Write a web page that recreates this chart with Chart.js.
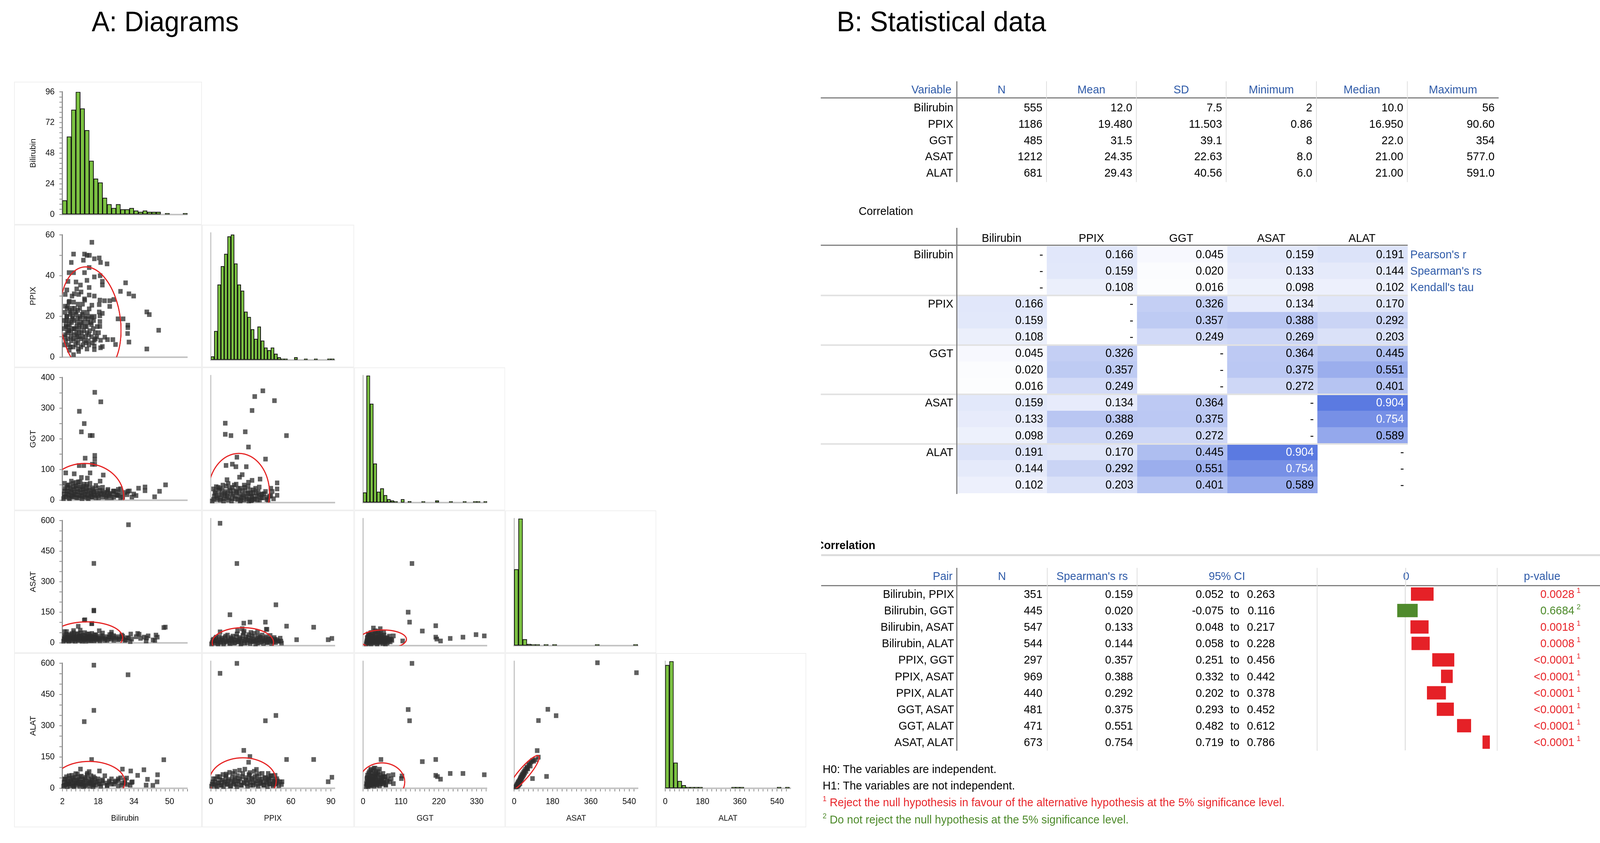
<!DOCTYPE html>
<html>
<head>
<meta charset="utf-8">
<script src="https://cdn.jsdelivr.net/npm/chart.js@4.4.1/dist/chart.umd.min.js"></script>
<style>
html, body { margin: 0; padding: 0; background: #fff; overflow: hidden; }
#root { width: 4310px; height: 2157px; position: relative; overflow: hidden; font-family: "Liberation Sans", Arial, sans-serif; color: #000; transform-origin: 0 0; }
sup { font-size: 19px; line-height: 0; vertical-align: 13px; }
</style>
</head>
<body>
<div id="root"></div>
<script>
// ---------- data ----------
const variables = ['Bilirubin', 'PPIX', 'GGT', 'ASAT', 'ALAT'];

// descriptive table
const descN = [555, 1186, 485, 1212, 681];
const descMean = ['12.0', '19.480', '31.5', '24.35', '29.43'];
const descSD = ['7.5', '11.503', '39.1', '22.63', '40.56'];
const descMin = ['2', '0.86', '8', '8.0', '6.0'];
const descMedian = ['10.0', '16.950', '22.0', '21.00', '21.00'];
const descMax = ['56', '90.60', '354', '577.0', '591.0'];

// correlation matrix
const pearsonR = [
  [null, 0.166, 0.045, 0.159, 0.191],
  [0.166, null, 0.326, 0.134, 0.170],
  [0.045, 0.326, null, 0.364, 0.445],
  [0.159, 0.134, 0.364, null, 0.904],
  [0.191, 0.170, 0.445, 0.904, null]];
const spearmanRs = [
  [null, 0.159, 0.020, 0.133, 0.144],
  [0.159, null, 0.357, 0.388, 0.292],
  [0.020, 0.357, null, 0.375, 0.551],
  [0.133, 0.388, 0.375, null, 0.754],
  [0.144, 0.292, 0.551, 0.754, null]];
const kendallTau = [
  [null, 0.108, 0.016, 0.098, 0.102],
  [0.108, null, 0.249, 0.269, 0.203],
  [0.016, 0.249, null, 0.272, 0.401],
  [0.098, 0.269, 0.272, null, 0.589],
  [0.102, 0.203, 0.401, 0.589, null]];
const statNames = ["Pearson's r", "Spearman's rs", "Kendall's tau"];

// pairwise Spearman table
const pairs = ['Bilirubin, PPIX', 'Bilirubin, GGT', 'Bilirubin, ASAT', 'Bilirubin, ALAT', 'PPIX, GGT',
  'PPIX, ASAT', 'PPIX, ALAT', 'GGT, ASAT', 'GGT, ALAT', 'ASAT, ALAT'];
const pairN = [351, 445, 547, 544, 297, 969, 440, 481, 471, 673];
const pairRs = ['0.159', '0.020', '0.133', '0.144', '0.357', '0.388', '0.292', '0.375', '0.551', '0.754'];
const ciLow = [0.052, -0.075, 0.048, 0.058, 0.251, 0.332, 0.202, 0.293, 0.482, 0.719];
const ciHigh = [0.263, 0.116, 0.217, 0.228, 0.456, 0.442, 0.378, 0.452, 0.612, 0.786];
const pValues = ['0.0028', '0.6684', '0.0018', '0.0008', '<0.0001', '<0.0001', '<0.0001', '<0.0001', '<0.0001', '<0.0001'];
const pSignificant = [true, false, true, true, true, true, true, true, true, true];

// histograms (bin start, bin width, counts)
const bilirubinHist = { start: 2, width: 2, yMax: 96,
  counts: [11, 61, 82, 96, 83, 66, 42, 28, 25, 13, 8, 5, 8, 4, 4, 5, 3, 2, 3, 2, 2, 2, 0, 1, 0, 0, 0, 1] };
const ppixHist = { start: 0, width: 2.5, yMax: 145,
  counts: [4, 33, 86, 107, 121, 141, 143, 110, 86, 79, 55, 49, 35, 24, 38, 22, 14, 11, 14, 7, 3, 1, 1, 0, 0, 3, 0, 0, 1, 0, 0, 1, 0, 0, 0, 1, 1] };
const ggtHist = { start: 0, width: 10, yMax: 189,
  counts: [15, 189, 147, 58, 16, 21, 11, 5, 3, 1, 0, 5, 0, 2, 0, 0, 0, 1, 0, 0, 0, 3, 0, 0, 0, 1, 0, 0, 0, 1, 0, 0, 1, 1, 0, 1] };
const asatHist = { start: 0, width: 20, yMax: 724,
  counts: [435, 724, 36, 9, 1, 1, 0, 1, 0, 1, 0, 0, 0, 0, 0, 0, 0, 0, 0, 1, 0, 0, 0, 0, 0, 0, 0, 0, 1] };
const alatHist = { start: 0, width: 20, yMax: 298,
  counts: [289, 298, 60, 17, 7, 2, 2, 1, 1, 0, 0, 0, 0, 0, 0, 0, 1, 1, 1, 0, 0, 0, 0, 0, 0, 0, 0, 1, 0, 1] };

// axis ranges and tick labels
const xRange = { Bilirubin: [2, 58], PPIX: [0, 93], GGT: [0, 360], ASAT: [0, 582], ALAT: [0, 606] };
const xMajor = { Bilirubin: [2, 18, 34, 50], PPIX: [0, 30, 60, 90], GGT: [0, 110, 220, 330], ASAT: [0, 180, 360, 540], ALAT: [0, 180, 360, 540] };
const xMinorStep = { Bilirubin: 2, PPIX: 3.75, GGT: 13.75, ASAT: 22.5, ALAT: 22.5 };
const yRange = { Bilirubin: [0, 96], PPIX: [0, 60], GGT: [0, 400], ASAT: [0, 600], ALAT: [0, 600] };
const yMajor = { Bilirubin: [0, 24, 48, 72, 96], PPIX: [0, 20, 40, 60], GGT: [0, 100, 200, 300, 400], ASAT: [0, 150, 300, 450, 600], ALAT: [0, 150, 300, 450, 600] };
const yMinorStep = { Bilirubin: 4, PPIX: 10, GGT: 50, ASAT: 50, ALAT: 50 };

// scatter points [x, y]
const bilPpix = [[15.2,56.4],[7.0,50.6],[11.9,50.6],[13.0,50.0],[14.1,50.0],[16.3,48.3],[18.5,48.7],[19.1,46.5],[22.0,45.8],[6.0,46.5],[11.4,47.6],[14.0,44.0],[5.0,41.5],[7.0,41.5],[11.9,41.5],[16.3,39.4],[18.9,40.0],[19.9,37.2],[19.9,35.4],[13.0,37.7],[14.0,34.2],[4.5,37.2],[8.1,36.9],[10.1,35.4],[8.4,33.5],[30.3,36.5],[28.0,32.3],[31.8,31.1],[33.9,30.0],[3.3,30.8],[7.3,31.1],[9.3,30.8],[14.0,30.5],[16.3,30.0],[11.9,28.6],[18.8,28.0],[20.9,27.7],[23.2,27.7],[23.2,24.9],[25.0,28.3],[14.0,23.7],[18.5,25.8],[15.2,25.5],[5.1,27.4],[39.8,22.2],[40.9,20.9],[18.5,22.2],[19.9,21.5],[18.8,20.3],[26.9,18.8],[29.2,18.8],[18.8,17.5],[18.8,15.1],[31.3,15.7],[31.3,14.5],[31.2,11.6],[45.1,13.2],[31.8,7.4],[39.8,4.0],[25.8,6.2],[24.6,8.6],[22.2,8.6],[21.0,9.8],[19.1,8.3],[16.3,5.5],[16.3,3.7],[19.1,4.6],[19.9,5.2],[13.0,4.0],[9.3,2.8],[7.0,1.2],[5.1,3.4],[16.3,8.3],[15.2,19.4],[16.3,20.0],[13.5,18.8],
  [2.8,14],[3.2,22],[3.5,8],[3.8,18],[4.2,12],[4.4,25],[4.8,6],[5.2,16],[5.5,21],[5.8,10],[6.2,14],[6.4,24],[6.8,5],[7.1,18],[7.4,11],[7.8,22],[8.1,8],[8.4,15],[8.8,19],[9.1,4],[9.4,12],[9.8,24],[10.2,9],[10.5,17],[10.9,21],[11.2,6],[11.6,13],[12.0,19],[12.4,10],[12.8,15],[13.2,22],[13.6,8],[14.2,13],[14.6,17],[15.1,10],[15.8,14],[16.6,12],[17.4,10],[3.0,10],[4.0,20],[5.0,13],[6.0,8],[6.6,19],[7.6,14],[8.6,10],[9.6,16],[10.6,12],[11.4,17],[12.6,7],[13.8,11],[4.6,15],[8.2,21],[10.0,20],[6.0,22],[3.6,16],[9.0,7],
  [3.1,6],[3.4,11],[3.7,15],[3.9,20],[4.1,24],[4.5,9],[4.7,13],[5.0,18],[5.3,23],[5.6,5],[5.9,12],[6.1,17],[6.5,20],[6.9,9],[7.2,14],[7.5,24],[7.9,6],[8.3,12],[8.6,17],[8.9,23],[9.2,10],[9.5,14],[9.9,19],[10.3,5],[10.7,15],[11.0,10],[11.3,22],[11.8,8],[12.2,15],[12.5,20],[13.0,12],[13.4,17],[13.9,6],[14.4,20],[15.0,16],[15.5,7],[16.0,18],[16.8,9],[17.6,15],[18.2,12],[2.9,18],[3.3,25],[4.9,27],[7.0,27],[9.0,26],[11.0,26],[12.0,28],[6.3,30],[10.4,32],[4.0,33]];
const bilGgt = [[16.5,352],[19.2,321],[9.6,290],[11.8,250],[10.5,223],[14.4,211],[15.4,211],[16.5,146],[16.5,133],[12.2,137],[16.5,117],[15.4,117],[9.5,113],[11.6,113],[3.5,89],[7.3,86],[14.4,89],[20.3,82],[10.5,74],[13.2,72],[18.9,62],[48.2,50],[39.0,43],[39.0,31],[45.5,29],[36.1,39],[43.3,11],[33.1,10],[28.0,37],[31.3,29],[24.8,29],[22.3,31],[26.4,16],
  [3,10],[3,30],[3,55],[4,20],[4,42],[5,8],[5,28],[5,50],[6,15],[6,35],[6,62],[7,10],[7,25],[7,45],[8,18],[8,38],[8,58],[9,8],[9,28],[9,48],[10,15],[10,35],[10,60],[11,10],[11,25],[11,45],[12,18],[12,38],[13,8],[13,30],[13,52],[14,15],[14,40],[15,10],[15,25],[16,18],[16,35],[17,8],[17,28],[18,15],[18,40],[19,22],[20,10],[20,30],[21,18],[22,8],[22,25],[23,15],[24,22],[25,10],[26,28],[27,15],[28,22],[29,10],[30,25],[31,18],[32,30],[34,20],[35,15],
  [2.5,5],[2.8,20],[3.2,38],[3.6,12],[4.0,30],[4.4,48],[4.8,18],[5.2,5],[5.6,40],[6.0,25],[6.4,12],[6.8,55],[7.2,32],[7.6,18],[8.0,45],[8.4,8],[8.8,28],[9.2,60],[9.6,15],[10.0,42],[10.4,25],[10.8,5],[11.2,35],[11.6,52],[12.0,12],[12.4,28],[12.8,45],[13.2,18],[13.6,5],[14.0,32],[14.4,55],[14.8,22],[15.2,10],[15.6,40],[16.0,28],[16.4,15],[17.0,48],[17.6,22],[18.2,8],[18.8,32],[19.4,18],[20.0,42],[20.8,25],[21.6,12],[22.4,35],[23.2,20],[24.0,8],[25.0,30],[26.0,18],[27.0,35],[28.0,8]];
const ppixGgt = [[39.0,352],[32.9,334],[47.7,321],[30.9,290],[10.8,250],[10.8,215],[15.1,211],[25.8,223],[56.7,211],[28.2,175],[19.5,143],[41.0,137],[11.4,117],[16.1,121],[18.8,113],[26.6,113],[23.5,88],[21.5,80],[30.9,70],[36.9,74],[28.2,64],[49.7,62],[49.7,43],[45.0,45],[36.3,49],[49.7,23],[38.6,27],[42.0,16],[30.2,6],[12.1,72],[2.0,43],
  [2,10],[3,30],[4,50],[5,15],[6,40],[7,8],[8,25],[9,55],[10,12],[11,35],[12,20],[13,8],[14,45],[15,28],[16,12],[17,38],[18,20],[19,58],[20,10],[21,30],[22,45],[23,15],[24,25],[25,8],[26,38],[27,18],[28,52],[29,10],[30,28],[31,20],[32,40],[33,12],[34,30],[35,8],[36,22],[38,15],[40,28],[42,10],[44,20],[46,35],[4,22],[7,45],[10,28],[13,60],[16,48],[19,35],[22,5],[25,55],[28,30],[31,8],
  [1,5],[2.5,20],[3.5,35],[4.5,10],[5.5,48],[6.5,25],[7.5,12],[8.5,40],[9.5,5],[10.5,22],[11.5,52],[12.5,30],[13.5,15],[14.5,38],[15.5,5],[16.5,25],[17.5,55],[18.5,12],[19.5,32],[20.5,45],[21.5,18],[22.5,8],[23.5,38],[24.5,22],[25.5,48],[26.5,12],[27.5,28],[28.5,5],[29.5,40],[30.5,18],[31.5,32],[32.5,10],[33.5,45],[34.5,20],[35.5,35],[36.5,8],[37.5,25],[39,15],[41,35],[43,8],[45,22],[47,12]];
const bilAsat = [[31.6,580],[16.1,390],[16.1,160],[12.1,113],[15.2,95],[9.1,81],[18.5,59],[48.1,77],[43.9,38],[36.4,42],[39.7,24],[43.4,12],[31.6,24],[28.6,38],[23.9,42],
  [3,15],[3,35],[4,25],[5,12],[5,40],[6,22],[7,30],[7,50],[8,15],[9,25],[9,45],[10,12],[10,35],[11,22],[12,50],[12,15],[13,30],[14,20],[14,42],[15,12],[16,28],[17,18],[17,38],[18,25],[19,15],[20,30],[21,20],[22,12],[23,28],[24,18],[25,35],[26,22],[27,15],[28,30],[29,20],[30,12],[31,25],[33,18],[35,30],[37,22],
  [2.5,8],[2.8,20],[3.2,30],[3.5,12],[3.8,42],[4.2,18],[4.5,28],[4.8,8],[5.2,35],[5.5,22],[5.8,15],[6.2,45],[6.5,10],[6.8,25],[7.2,38],[7.5,18],[7.8,8],[8.2,28],[8.5,42],[8.8,20],[9.2,12],[9.5,32],[9.8,22],[10.2,48],[10.5,28],[10.8,8],[11.2,38],[11.5,15],[11.8,25],[12.2,35],[12.5,8],[12.8,22],[13.2,44],[13.5,15],[13.8,28],[14.2,10],[14.5,35],[14.8,22],[15.2,46],[15.5,18],[15.8,30],[16.2,10],[16.5,40],[16.8,24],[17.2,14],[17.5,32],[18.2,20],[18.8,10],[19.5,35],[20.2,22],[21,12],[21.8,30],[22.5,18],[23.2,40],[24,25],[25,12],[26,30],[27.5,20],[29,32],[30.5,15],[3,55],[7,60],[10,62],[20,48],[24,52],
  [11.8,111],[15.1,94],[3.9,55],[16.1,157],[47.4,75],[44.5,28],[42.6,14],[40.4,34],[38.6,28],[35.7,46],[32.6,43],[32.4,6],[39.5,9]];
const ppixAsat = [[6.9,578],[19.5,388],[48.8,193],[14.3,146],[24.7,106],[29.3,111],[40.9,111],[56.8,92],[77.1,87],[41.5,77],[64.3,28],[88,28],[90.8,34],[42.1,77],[52.6,21],
  [1,15],[2,30],[3,22],[4,40],[5,12],[6,28],[7,18],[8,35],[9,25],[10,15],[11,45],[12,22],[13,30],[14,12],[15,38],[16,20],[17,28],[18,15],[19,42],[20,25],[21,18],[22,32],[23,12],[24,48],[25,22],[26,30],[27,15],[28,38],[29,25],[30,18],[31,45],[32,28],[33,20],[34,35],[35,12],[36,25],[37,40],[38,18],[39,30],[40,22],[41,35],[42,15],[43,28],[44,20],[45,32],[46,25],[47,18],[48,30],[50,22],
  [0.5,8],[1.5,25],[2.5,12],[3.5,35],[4.5,20],[5.5,8],[6.5,42],[7.5,15],[8.5,28],[9.5,8],[10.5,38],[11.5,18],[12.5,50],[13.5,25],[14.5,10],[15.5,32],[16.5,45],[17.5,12],[18.5,25],[19.5,55],[20.5,18],[21.5,38],[22.5,8],[23.5,30],[24.5,60],[25.5,12],[26.5,42],[27.5,25],[28.5,52],[29.5,10],[30.5,35],[31.5,20],[32.5,58],[33.5,8],[34.5,28],[35.5,45],[36.5,15],[37.5,35],[38.5,50],[39.5,10],[40.5,25],[41.5,42],[42.5,15],[43.5,30],[44.5,48],[45.5,10],[46.5,22],[47.5,38],[48.5,15],[49.5,28],[51,20],[52,35],[53,12],[6.9,65],[23.5,80],[25,68],[30,62],[35,65],[20,70]];
const ggtAsat = [[142,388],[131,158],[135,111],[172,69],[211,94],[211,40],[225,22],[253,34],[290,40],[328,52],[352,46],[214,31],[115,22],[88,46],
  [10,15],[12,35],[14,25],[16,50],[18,12],[20,30],[22,60],[24,20],[26,40],[28,15],[30,28],[32,48],[34,18],[36,35],[38,65],[40,22],[42,12],[44,42],[46,28],[48,55],[50,18],[52,35],[55,25],[58,45],[60,15],[63,30],[66,22],[70,38],[74,20],[78,30],[84,25],
  [9,8],[11,22],[13,40],[15,12],[17,30],[19,50],[21,18],[23,8],[25,35],[27,22],[29,45],[31,12],[33,28],[35,55],[37,18],[39,38],[41,8],[43,25],[45,48],[47,15],[49,32],[51,60],[53,20],[55,40],[57,10],[59,28],[61,50],[64,18],[67,35],[70,12],[73,28],[76,45],[79,18],[82,30],[30,83],[50,80],[45,68],[25,62],[15,55],[35,70],[60,65],[20,28],[40,20],[65,8]];
const bilAlat = [[16.1,591],[31.4,545],[16.1,374],[11.8,320],[15.1,138],[47.4,137],[18.6,83],[10.1,92],[28.9,92],[32.6,83],[38.5,89],[44.6,65],[44.4,31],[42.5,14],[39.5,15],[40.1,43],[35.7,62],[33.3,31],[32.4,15],[30.8,49],[27,37],
  [3,15],[3,45],[4,30],[5,20],[5,60],[6,38],[7,12],[7,50],[8,25],[8,70],[9,40],[10,18],[10,55],[11,30],[12,12],[12,45],[13,65],[14,25],[14,80],[15,38],[16,15],[16,55],[17,30],[18,45],[19,20],[20,35],[21,60],[22,15],[23,28],[24,45],[25,20],[26,35],[27,12],[28,50],[29,25],[30,40],[31,18],[33,28],
  [2.5,10],[2.8,28],[3.2,42],[3.5,18],[3.8,55],[4.2,8],[4.5,35],[4.8,22],[5.2,48],[5.5,12],[5.8,30],[6.2,62],[6.5,18],[6.8,40],[7.2,8],[7.5,28],[7.8,52],[8.2,15],[8.5,35],[8.8,68],[9.2,22],[9.5,45],[9.8,10],[10.2,30],[10.5,58],[10.8,18],[11.2,40],[11.5,8],[11.8,25],[12.2,52],[12.5,15],[12.8,35],[13.2,72],[13.5,22],[13.8,45],[14.2,10],[14.5,30],[14.8,60],[15.2,18],[15.5,40],[15.8,8],[16.2,25],[16.5,48],[17,15],[17.8,35],[18.5,22],[19.2,10],[20,40],[21,25],[22,12],[23,35],[24,20],[25.5,30],[27,45],[28.5,15],[30,25]];
const ppixAlat = [[19.5,590],[6.9,543],[48.8,344],[40.9,319],[24.7,179],[29.3,150],[28.3,123],[56.8,136],[77.1,136],[90.8,52],[88,31],[53.4,31],[48.2,61],[43,70],[34.2,89],[29.3,74],[18,80],[11.5,67],[44,49],
  [1,20],[2,45],[3,30],[4,12],[5,55],[6,25],[7,40],[8,15],[9,65],[10,30],[11,48],[12,20],[13,35],[14,75],[15,12],[16,50],[17,28],[18,40],[19,18],[20,60],[21,32],[22,45],[23,15],[24,70],[25,28],[26,50],[27,20],[28,38],[29,60],[30,15],[31,42],[32,25],[33,55],[34,18],[35,35],[36,68],[37,22],[38,45],[39,30],[40,15],[41,50],[42,28],[43,40],[44,20],[45,58],[46,32],[47,18],[48,42],[49,25],[50,35],
  [0.5,10],[1.5,30],[2.5,18],[3.5,45],[4.5,8],[5.5,25],[6.5,55],[7.5,15],[8.5,38],[9.5,8],[10.5,28],[11.5,60],[12.5,18],[13.5,42],[14.5,10],[15.5,32],[16.5,70],[17.5,20],[18.5,48],[19.5,8],[20.5,35],[21.5,85],[22.5,15],[23.5,55],[24.5,25],[25.5,90],[26.5,40],[27.5,10],[28.5,65],[29.5,28],[30.5,48],[31.5,15],[32.5,80],[33.5,35],[34.5,58],[35.5,10],[36.5,42],[37.5,25],[38.5,70],[39.5,15],[40.5,50],[41.5,30],[42.5,8],[43.5,45],[44.5,22],[45.5,60],[46.5,12],[47.5,35],[48.5,20],[49.5,45],[51,12],[52,30],[53,18]];
const ggtAlat = [[142,590],[131,372],[135,319],[52,136],[172,126],[211,136],[211,61],[225,43],[253,70],[290,70],[352,64],[216,55],[111,46],[113,58],[87,64],[58,55],
  [10,20],[12,50],[14,35],[16,70],[18,15],[20,45],[22,85],[24,28],[26,60],[28,18],[30,40],[32,95],[34,25],[36,55],[38,75],[40,15],[42,38],[44,65],[46,28],[48,90],[50,20],[52,48],[55,35],[58,70],[60,25],[63,55],[66,18],[70,40],[74,60],[78,30],[82,45],[88,22],
  [9,8],[10,25],[11,45],[12,15],[13,62],[14,32],[15,8],[16,50],[17,22],[18,78],[19,38],[20,12],[21,60],[22,28],[23,90],[24,45],[25,15],[26,70],[27,35],[28,55],[29,20],[30,85],[31,42],[32,10],[33,65],[34,28],[35,95],[36,50],[37,18],[38,72],[39,35],[40,58],[42,22],[44,80],[46,42],[48,12],[50,65],[52,30],[54,50],[56,20],[58,40],[60,28],[63,55],[66,15],[70,35]];
const asatAlat = [[391,593],[574,546],[158,373],[197,343],[114,320],[108,178],[114,147],[152,56],[86,46],[60,95],
  [8,6],[10,12],[12,8],[13,18],[15,14],[16,22],[17,10],[18,28],[19,20],[20,15],[21,32],[22,25],[23,18],[24,36],[25,28],[26,40],[27,22],[28,45],[29,33],[30,50],[32,38],[33,55],[35,45],[36,62],[38,52],[40,68],[42,58],[44,75],[46,65],[48,82],[50,72],[53,90],[56,80],[60,100],[64,92],[68,110],[72,118],[76,105],[80,125],[86,132],[92,128],[100,135]];

// confidence ellipses [cx, cy, rx, ry, rotation deg]
const ellBilPpix = [14.6, 17.5, 13.4, 27, -8];
const ellBilGgt = [12, 10, 17.5, 110, 0];
const ellPpixGgt = [21, 30, 23, 125, 0];
const ellBilAsat = [13, 25, 16, 78, 0];
const ellPpixAsat = [24, 15, 23, 70, 0];
const ellGgtAsat = [58, 30, 68, 44, 0];
const ellBilAlat = [14, 30, 16, 99, 0];
const ellPpixAlat = [24, 35, 25, 109, 0];
const ellGgtAlat = [55, 30, 66, 90, 0];
const ellAsatAlat = [45, 70, 105, 26, -48];

const hists = { Bilirubin: bilirubinHist, PPIX: ppixHist, GGT: ggtHist, ASAT: asatHist, ALAT: alatHist };
const scatters = {
  'PPIX|Bilirubin': [bilPpix, ellBilPpix],
  'GGT|Bilirubin': [bilGgt, ellBilGgt], 'GGT|PPIX': [ppixGgt, ellPpixGgt],
  'ASAT|Bilirubin': [bilAsat, ellBilAsat], 'ASAT|PPIX': [ppixAsat, ellPpixAsat], 'ASAT|GGT': [ggtAsat, ellGgtAsat],
  'ALAT|Bilirubin': [bilAlat, ellBilAlat], 'ALAT|PPIX': [ppixAlat, ellPpixAlat], 'ALAT|GGT': [ggtAlat, ellGgtAlat], 'ALAT|ASAT': [asatAlat, ellAsatAlat]
};

// ---------- helpers ----------
const PAGE_W = 4310, PAGE_H = 2157;
const BLUE = '#2e5aa8';
const RED = '#e8262b';
const GREEN = '#4d8a2a';
const root = document.getElementById('root');

Chart.defaults.font.family = '"Liberation Sans", Arial, sans-serif';
Chart.defaults.color = '#111';
Chart.defaults.animation = false;

function el(css, html) {
  const d = document.createElement('div');
  Object.assign(d.style, { position: 'absolute' }, css);
  if (html !== undefined) d.innerHTML = html;
  root.appendChild(d);
  return d;
}
function text(str, x, y, align, opts) {
  opts = opts || {};
  const lh = opts.lh || 42;
  const css = { top: (y - lh / 2) + 'px', lineHeight: lh + 'px', fontSize: (opts.size || 30) + 'px',
    whiteSpace: 'nowrap', color: opts.color || '#000', fontWeight: opts.bold ? 'bold' : 'normal' };
  if (align === 'right') css.right = (PAGE_W - x) + 'px';
  else if (align === 'center') { css.left = (x - 300) + 'px'; css.width = '600px'; css.textAlign = 'center'; }
  else css.left = x + 'px';
  return el(css, str);
}
function hline(x1, x2, y, w, c) { el({ left: x1 + 'px', top: (y - w / 2) + 'px', width: (x2 - x1) + 'px', height: w + 'px', background: c }); }
function vline(x, y1, y2, w, c) { el({ left: (x - w / 2) + 'px', top: y1 + 'px', width: w + 'px', height: (y2 - y1) + 'px', background: c }); }
function canvasAt(left, top, w, h) {
  const c = document.createElement('canvas');
  c.width = w; c.height = h;
  Object.assign(c.style, { position: 'absolute', left: left + 'px', top: top + 'px', width: w + 'px', height: h + 'px' });
  root.appendChild(c);
  return c;
}
function tickList(min, max, step) {
  const out = [];
  for (let k = 0; ; k++) {
    const v = +(min + k * step).toFixed(6);
    if (v > max + 1e-9) break;
    out.push(v);
  }
  return out;
}
const isMajor = (v, majors) => majors.some(m => Math.abs(m - v) < 1e-6);
const esc = s => s.replace(/</g, '&lt;');

// the window is narrower than 4310 px, so fit the 4310 x 2157 layout into the viewport
const sx = window.innerWidth / PAGE_W, sy = window.innerHeight / PAGE_H;
if (Math.abs(sx - 1) > 0.002 || Math.abs(sy - 1) > 0.002) root.style.transform = `scale(${sx},${sy})`;
const DPR = 2;

// titles
text('A: Diagrams', 247, 55, 'left', { size: 72, lh: 90 });
text('B: Statistical data', 2254, 55, 'left', { size: 73, lh: 90 });

// ---------- scatter matrix ----------
const ellipsePlugin = {
  id: 'confEllipse',
  afterDatasetsDraw(chart, args, opts) {
    if (!opts || !opts.e) return;
    const [cx, cy, rx, ry, rot] = opts.e;
    const xs = chart.scales.x, ys = chart.scales.y, a = chart.chartArea, ctx = chart.ctx;
    const px = xs.getPixelForValue(cx), py = ys.getPixelForValue(cy);
    const ax = Math.abs(xs.getPixelForValue(cx + rx) - px);
    const ay = Math.abs(ys.getPixelForValue(cy + ry) - py);
    ctx.save();
    ctx.beginPath();
    ctx.rect(a.left, a.top, a.right - a.left, a.bottom - a.top);
    ctx.clip();
    ctx.beginPath();
    ctx.ellipse(px, py, ax, ay, rot * Math.PI / 180, 0, Math.PI * 2);
    ctx.strokeStyle = '#e52222';
    ctx.lineWidth = 3;
    ctx.stroke();
    ctx.restore();
  }
};

const colLeft = [38, 544, 954, 1361, 1768], colW = [506, 410, 407, 407, 404];
const rowTop = [209, 575, 940, 1306, 1671], rowH = [366, 365, 366, 365, 446];
const axisOff = [130, 24, 24, 24, 24], plotW = [337, 334, 334, 334, 338];
const PLOT_TOP = 21, PLOT_H = 325;

for (let i = 0; i < 5; i++) {
  for (let j = 0; j <= i; j++) {
    const L = colLeft[j], T = rowTop[i], w = colW[j], h = rowH[i];
    el({ left: L + 'px', top: T + 'px', width: w + 'px', height: h + 'px', boxShadow: 'inset 0 0 0 2px #efefef' });
    const cv = canvasAt(L, T, w, h);
    const xv = variables[j], yv = variables[i];
    const diag = i === j, firstCol = j === 0, bottomRow = i === 4;
    const yMax = diag ? hists[yv].yMax : yRange[yv][1];

    const xScale = {
      type: 'linear', min: xRange[xv][0], max: xRange[xv][1], offset: false,
      afterBuildTicks: s => { s.ticks = tickList(xRange[xv][0], xRange[xv][1], xMinorStep[xv]).map(v => ({ value: v })); },
      afterFit: s => { s.height = h - PLOT_TOP - PLOT_H; },
      grid: { display: true, offset: false, drawOnChartArea: false, drawTicks: bottomRow, tickLength: 8, tickColor: '#8c8c8c', tickWidth: 2 },
      border: { display: true, color: '#c4c4c4', width: 4 },
      ticks: { display: bottomRow, autoSkip: false, maxRotation: 0, padding: 13, font: { size: 22 }, color: '#111',
        callback: v => isMajor(v, xMajor[xv]) ? String(v) : '' },
      title: { display: bottomRow, text: xv, font: { size: 21 }, color: '#111', padding: { top: 0, bottom: 10 } }
    };
    const yScale = {
      type: 'linear', min: 0, max: yMax,
      afterBuildTicks: s => { s.ticks = (firstCol ? tickList(0, yMax, yMinorStep[yv]) : [0, yMax]).map(v => ({ value: v })); },
      afterFit: s => { s.width = axisOff[j]; },
      grid: { display: true, drawOnChartArea: false, drawTicks: firstCol, tickLength: 8, tickColor: '#8c8c8c', tickWidth: 2 },
      border: { display: true, color: firstCol ? '#8f8f8f' : '#c4c4c4', width: 3 },
      ticks: { display: firstCol, autoSkip: false, padding: 13, font: { size: 22 }, color: '#111',
        callback: v => isMajor(v, yMajor[yv]) ? String(v) : '' },
      title: { display: firstCol, text: yv, font: { size: 21 }, color: '#111', padding: { top: 39, bottom: 0 } }
    };

    let datasets, type, ell = null;
    if (diag) {
      const H = hists[xv];
      type = 'bar';
      datasets = [{
        data: H.counts.map((c, k) => ({ x: H.start + (k + 0.5) * H.width, y: c || null })),
        backgroundColor: '#7cc242', borderColor: '#111', borderWidth: 2, minBarLength: 3,
        barPercentage: 1, categoryPercentage: 1, borderSkipped: false
      }];
    } else {
      const [pts, e] = scatters[yv + '|' + xv];
      type = 'scatter';
      ell = e;
      datasets = [{
        data: pts.map(p => ({ x: p[0], y: p[1] })),
        pointStyle: 'rect', pointRadius: 8.5, borderWidth: 0,
        backgroundColor: 'rgba(46,46,46,0.76)', clip: false
      }];
    }

    new Chart(cv, {
      type,
      data: { datasets },
      plugins: [ellipsePlugin],
      options: {
        responsive: false, devicePixelRatio: DPR, events: [],
        layout: { autoPadding: false, padding: { left: 0, top: PLOT_TOP, right: w - axisOff[j] - plotW[j], bottom: 0 } },
        plugins: { legend: { display: false }, tooltip: { enabled: false }, confEllipse: { e: ell } },
        scales: { x: xScale, y: yScale }
      }
    });
  }
}

// ---------- descriptive table ----------
const dLines = [2577, 2819, 3061, 3303, 3546, 3791, 4037];
const dHeaders = ['N', 'Mean', 'SD', 'Minimum', 'Median', 'Maximum'];
text('Variable', 2563, 229, 'right', { color: BLUE });
dHeaders.forEach((hd, k) => text(hd, (dLines[k] + dLines[k + 1]) / 2, 229, 'center', { color: BLUE }));
hline(2211, 4037, 250, 3, '#808080');
vline(2577, 208, 466, 3, '#808080');
for (let k = 1; k < 6; k++) vline(dLines[k], 208, 466, 2, '#dedede');
const descCols = [descN, descMean, descSD, descMin, descMedian, descMax];
variables.forEach((v, r) => {
  const y = 275 + r * 41.8;
  text(v, 2568, y, 'right');
  descCols.forEach((col, k) => text(String(col[r]), dLines[k + 1] - 11, y, 'right'));
});

// ---------- correlation matrix (heat map) ----------
text('Correlation', 2313, 540, 'left');
const mLines = [2577, 2819, 3061, 3303, 3546, 3792];
variables.forEach((v, k) => text(v, (mLines[k] + mLines[k + 1]) / 2, 609, 'center'));
hline(2211, 3792, 627, 3, '#808080');

const stats = [pearsonR, spearmanRs, kendallTau];
const hmRows = [];
const hmLabels = [];
variables.forEach((v, r) => stats.forEach((s, si) => { hmRows.push(s[r]); hmLabels.push(v + ' ' + statNames[si]); }));
const heat = v => v === null ? 'rgba(0,0,0,0)' :
  `rgb(${Math.round(255 - 181 * v)},${Math.round(255 - 147 * v)},${Math.round(255 - 33 * v)})`;

const HM_TOP = 630, HM_H = 632;
const hmCanvas = canvasAt(2577, HM_TOP, 1215, HM_H);
new Chart(hmCanvas, {
  type: 'bar',
  data: {
    labels: hmLabels,
    datasets: variables.map((v, c) => ({
      data: hmRows.map(row => row[c] === null ? null : [c, c + 1]),
      backgroundColor: hmRows.map(row => heat(row[c])),
      grouped: false, barPercentage: 1, categoryPercentage: 1, borderWidth: 0, borderSkipped: false
    }))
  },
  plugins: [{
    id: 'cellText',
    afterDatasetsDraw(chart) {
      const ctx = chart.ctx, xs = chart.scales.x, ys = chart.scales.y;
      ctx.save();
      ctx.font = '30px "Liberation Sans", Arial, sans-serif';
      ctx.textAlign = 'right';
      ctx.textBaseline = 'middle';
      hmRows.forEach((row, r) => row.forEach((v, c) => {
        ctx.fillStyle = v !== null && v > 0.7 ? '#fff' : '#000';
        ctx.fillText(v === null ? '-' : v.toFixed(3), xs.getPixelForValue(c + 1) - 10, ys.getPixelForValue(r) + 1);
      }));
      ctx.restore();
    }
  }],
  options: {
    indexAxis: 'y', responsive: false, devicePixelRatio: DPR, events: [],
    layout: { autoPadding: false, padding: 0 },
    plugins: { legend: { display: false }, tooltip: { enabled: false } },
    scales: { x: { type: 'linear', min: 0, max: 5, display: false }, y: { type: 'category', display: false } }
  }
});
const rowStep = HM_H / 15;
for (let g = 1; g < 5; g++) hline(2211, 3792, HM_TOP + g * 3 * rowStep, 4, '#e2e2e2');
vline(2577, 583, 1264, 3, '#808080');
variables.forEach((v, g) => text(v, 2568, HM_TOP + (g * 3 + 0.5) * rowStep, 'right'));
statNames.forEach((s, k) => text(s, 3799, HM_TOP + (k + 0.5) * rowStep, 'left', { color: BLUE }));

// ---------- pairwise correlation table ----------
el({ left: '2212px', top: '1374px', width: '400px', height: '42px', overflow: 'hidden' },
  '<div style="margin-left:-14px;font-size:30px;line-height:42px;font-weight:bold;white-space:nowrap">Correlation</div>');
hline(2212, 4310, 1420, 5, '#dcdcdc');
text('Pair', 2566, 1474, 'right', { color: BLUE });
text('N', 2699, 1474, 'center', { color: BLUE });
text("Spearman's rs", 2942, 1474, 'center', { color: BLUE });
text('95% CI', 3305, 1474, 'center', { color: BLUE });
text('0', 3788, 1474, 'center', { color: BLUE });
text('p-value', 4154, 1474, 'center', { color: BLUE });
hline(2212, 4310, 1498, 3, '#808080');
vline(2577, 1453, 1921, 3, '#808080');
[2821, 3063, 3548, 4033].forEach(x => vline(x, 1453, 1921, 2, '#dedede'));
vline(3786, 1453, 1499, 3, '#e3e3e3');

const F_TOP = 1499, F_H = 421;
pairs.forEach((p, r) => {
  const y = F_TOP + (r + 0.5) * F_H / 10;
  text(p, 2570, y, 'right');
  text(String(pairN[r]), 2808, y, 'right');
  text(pairRs[r], 3052, y, 'right');
  text(ciLow[r].toFixed(3), 3296, y, 'right');
  text('to', 3314, y, 'left');
  text(ciHigh[r].toFixed(3), 3434, y, 'right');
  const col = pSignificant[r] ? RED : GREEN;
  text(esc(pValues[r]), 4241, y, 'right', { color: col });
  text('<sup>' + (pSignificant[r] ? '1' : '2') + '</sup>', 4247, y, 'left', { color: col });
});

const fCanvas = canvasAt(3548, F_TOP, 485, F_H);
new Chart(fCanvas, {
  type: 'bar',
  data: {
    labels: pairs,
    datasets: [{
      data: ciLow.map((lo, r) => [lo, ciHigh[r]]),
      backgroundColor: pSignificant.map(s => s ? '#e52127' : '#4f8a2c'),
      barPercentage: 0.81, categoryPercentage: 1, borderWidth: 0
    }]
  },
  options: {
    indexAxis: 'y', responsive: false, devicePixelRatio: DPR, events: [],
    layout: { autoPadding: false, padding: 0 },
    plugins: { legend: { display: false }, tooltip: { enabled: false } },
    scales: {
      x: { type: 'linear', min: -0.82, max: 0.855, z: 1,
        afterBuildTicks: s => { s.ticks = [{ value: 0 }]; },
        afterFit: s => { s.height = 0; },
        ticks: { display: false },
        grid: { drawTicks: false, color: '#e3e3e3', lineWidth: 3 },
        border: { display: false } },
      y: { display: false }
    }
  }
});

// footnotes
text('H0: The variables are independent.', 2216, 1968, 'left');
text('H1: The variables are not independent.', 2216, 2010, 'left');
text('<sup>1</sup> Reject the null hypothesis in favour of the alternative hypothesis at the 5% significance level.', 2216, 2053, 'left', { color: RED });
text('<sup>2</sup> Do not reject the null hypothesis at the 5% significance level.', 2216, 2097, 'left', { color: GREEN });
</script>
</body>
</html>
